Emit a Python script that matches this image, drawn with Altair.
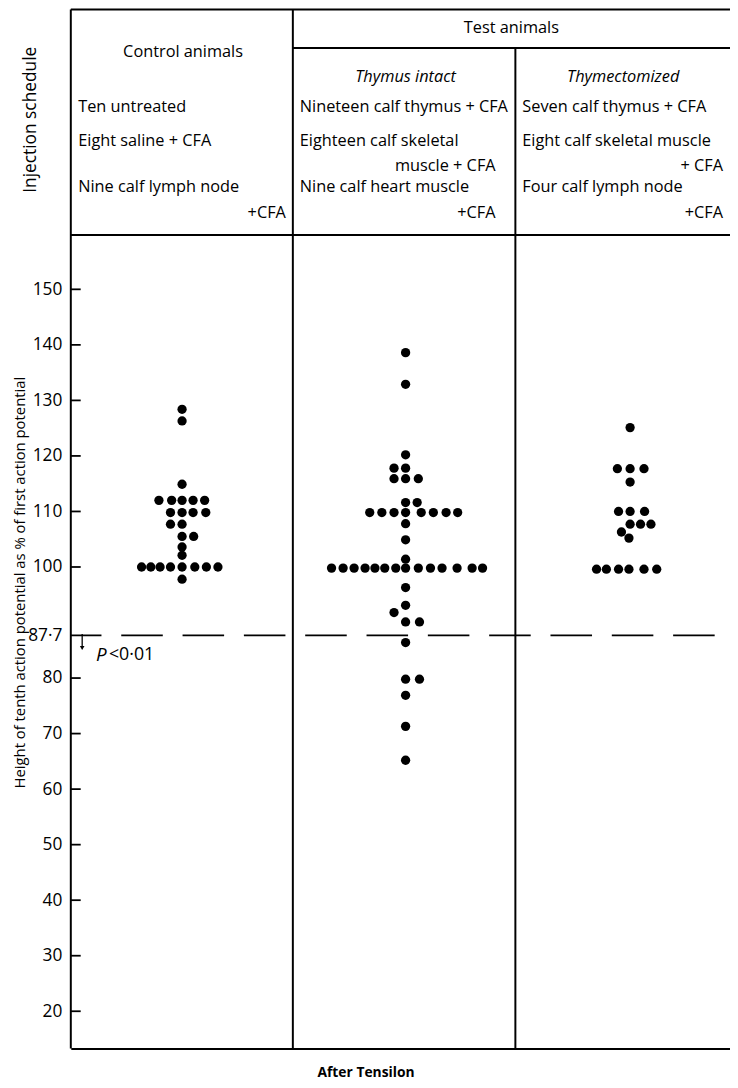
import altair as alt
import pandas as pd

# ---------------- data ----------------
# Control animals: height of 10th AP as % of first; column offset in dot widths
control_values = [128.4, 126.3, 114.9,
                  112.0, 112.0, 112.0, 112.0, 112.0,
                  109.8, 109.8, 109.8, 109.8,
                  107.7, 107.7, 105.5, 105.5, 103.6, 102.1,
                  100, 100, 100, 100, 100, 100, 100, 100,
                  97.8]
control_cols = [0, 0, 0,
                -2, -0.9, 0, 0.95, 1.95,
                -1, 0, 0.95, 2.05,
                -1, 0, 0, 1, 0, 0,
                -3.5, -2.7, -1.9, -1, 0, 1.1, 2.1, 3.1,
                0]

intact_values = [138.6, 132.9, 120.2,
                 117.8, 117.8, 115.9, 115.9, 115.9, 111.6, 111.6,
                 109.8, 109.8, 109.8, 109.8, 109.8, 109.8, 109.8, 109.8,
                 107.8, 104.9, 101.4,
                 99.8, 99.8, 99.8, 99.8, 99.8, 99.8, 99.8, 99.8, 99.8, 99.8, 99.8, 99.8, 99.8, 99.8,
                 96.3, 93.1, 91.8, 90.1, 90.1, 86.4, 79.8, 79.8, 76.9, 71.3, 65.2]
intact_cols = [0, 0, 0,
               -1, 0, -1, 0, 1.1, 0, 1,
               -3.1, -2.05, -1, 0, 1.35, 2.4, 3.5, 4.5,
               0, 0, 0,
               -6.4, -5.4, -4.45, -3.5, -2.65, -1.8, -0.85, 0, 1.1, 2.15, 3.15, 4.45, 5.75, 6.65,
               0, 0, -1, 0, 1.2, 0, 0, 1.2, 0, 0, 0]

thymect_values = [125.1, 117.7, 117.7, 117.7, 115.3,
                  110.0, 110.0, 110.0, 107.7, 107.7, 107.7, 106.3, 105.2,
                  99.6, 99.6, 99.6, 99.6, 99.6, 99.6]
thymect_cols = [0, -1.1, 0, 1.2, 0,
                -1, 0, 1.25, 0, 0.9, 1.8, -0.75, -0.1,
                -2.9, -2.05, -1, -0.1, 1.2, 2.3]

groups = ["Control", "Thymus intact", "Thymectomized"]
group_centres = [112.5, 338.5, 565.5]   # x-scale units (plot px)
dot_step = 11.7

y_ticks = [20, 30, 40, 50, 60, 70, 80, 100, 110, 120, 130, 140, 150]
threshold = 87.7

# ---------------- build table ----------------
rows = []
for g, c, vals, cols in zip(groups, group_centres,
                            [control_values, intact_values, thymect_values],
                            [control_cols, intact_cols, thymect_cols]):
    for v, k in zip(vals, cols):
        rows.append({"group": g, "x": c + k * dot_step, "v": v})
dots_df = pd.DataFrame(rows)

W, H = 666.5, 822
LEFT, TOP = 71.5, 232          # page position of plot origin
FONT = "Open Sans"
HS = 16.5                       # header font size


def px(xp):
    return xp - LEFT


def py(yp):
    return yp - TOP


one = pd.DataFrame({"k": [0]})
xscale = alt.Scale(domain=[0, W], nice=False, zero=False)
yscale = alt.Scale(domain=[13.3, 159.7], nice=False, zero=False)

dots = alt.Chart(dots_df).mark_circle(size=88, color="black", opacity=1).encode(
    x=alt.X("x:Q", scale=xscale,
            axis=alt.Axis(labels=False, ticks=False, grid=False, title=None,
                          domainColor="black", domainWidth=2)),
    y=alt.Y("v:Q", scale=yscale,
            axis=alt.Axis(values=y_ticks + [threshold], grid=False, domain=False,
                          ticks=False, title=None, labelPadding=9,
                          labelFontSize=17.5, labelFont=FONT, labelColor="black",
                          labelOverlap=False, labelFlush=False,
                          labelExpr="datum.value == 87.7 ? '87·7' : datum.label")),
)

tick_df = pd.DataFrame({"v": y_ticks})
ticks = alt.Chart(tick_df).mark_rule(color="black", strokeWidth=1.8).encode(
    y=alt.Y("v:Q", scale=yscale), x=alt.value(0), x2=alt.value(10))

dash = alt.Chart(pd.DataFrame({"v": [threshold]})).mark_rule(
    color="black", strokeWidth=1.8, strokeDash=[42, 20], strokeDashOffset=11
).encode(y=alt.Y("v:Q", scale=yscale), x=alt.value(0), x2=alt.value(W))


def hline(x1, x2, y, w=2):
    return alt.Chart(one).mark_rule(color="black", strokeWidth=w).encode(
        x=alt.value(px(x1)), x2=alt.value(px(x2)), y=alt.value(py(y)))


def vline(x, y1, y2, w=2):
    return alt.Chart(one).mark_rule(color="black", strokeWidth=w).encode(
        x=alt.value(px(x)), y=alt.value(py(y1)), y2=alt.value(py(y2)))


def label(text, x, y, align="left", size=HS, style="normal", weight="normal",
          angle=0, font=FONT):
    return alt.Chart(one).mark_text(
        text=text, align=align, baseline="middle", fontSize=size, font=font,
        fontStyle=style, fontWeight=weight, angle=angle, color="black"
    ).encode(x=alt.value(px(x)), y=alt.value(py(y)))


lines = [
    hline(71.5, 738, 3.5),
    hline(296, 738, 42.5),
    hline(71.5, 738, 231.5),
    vline(71.5, 3.5, 1054),
    vline(296, 3.5, 1054),
    vline(521, 42.5, 1054),
]

texts = [
    label("Test animals", 517, 22, "center"),
    label("Control animals", 185, 47, "center"),
    label("Thymus intact", 410, 72, "center", style="italic"),
    label("Thymectomized", 630, 72, "center", style="italic"),
    label("Ten untreated", 79, 102),
    label("Eight saline + CFA", 79, 137),
    label("Nine calf lymph node", 79, 183),
    label("+CFA", 289, 209, "right"),
    label("Nineteen calf thymus + CFA", 303, 102),
    label("Eighteen calf skeletal", 303, 137),
    label("muscle + CFA", 501, 162, "right"),
    label("Nine calf heart muscle", 303, 183),
    label("+CFA", 501, 209, "right"),
    label("Seven calf thymus + CFA", 528, 102),
    label("Eight calf skeletal muscle", 528, 137),
    label("+ CFA", 731, 162, "right"),
    label("Four calf lymph node", 528, 183),
    label("+CFA", 731, 209, "right"),
    label("Injection schedule", 31, 115, "center", size=17.5, angle=270),
    label("Height of tenth action potential as % of first action potential",
          20, 583, "center", size=15, angle=270),
    label("P", 97, 656, "left", size=19, style="italic"),
    label("<0·01", 110, 656, "left", size=18),
    label("After Tensilon", 370, 1079, "center", size=14, weight="bold"),
]

arrow_line = vline(83, 635, 648, w=1.3)
arrow_head = alt.Chart(one).mark_point(
    shape="triangle-down", filled=True, size=22, color="black", opacity=1
).encode(x=alt.value(px(83)), y=alt.value(py(649)))

chart = alt.layer(
    dash, ticks, *lines, dots, *texts, arrow_line, arrow_head
).properties(
    width=W, height=H, autosize="none",
    padding={"left": LEFT - 8, "top": TOP - 8, "right": 0, "bottom": 1080 - (TOP - 8) - H},
).configure_view(stroke=None)

chart.save("out.html", embed_options={"renderer": "svg", "actions": False})
